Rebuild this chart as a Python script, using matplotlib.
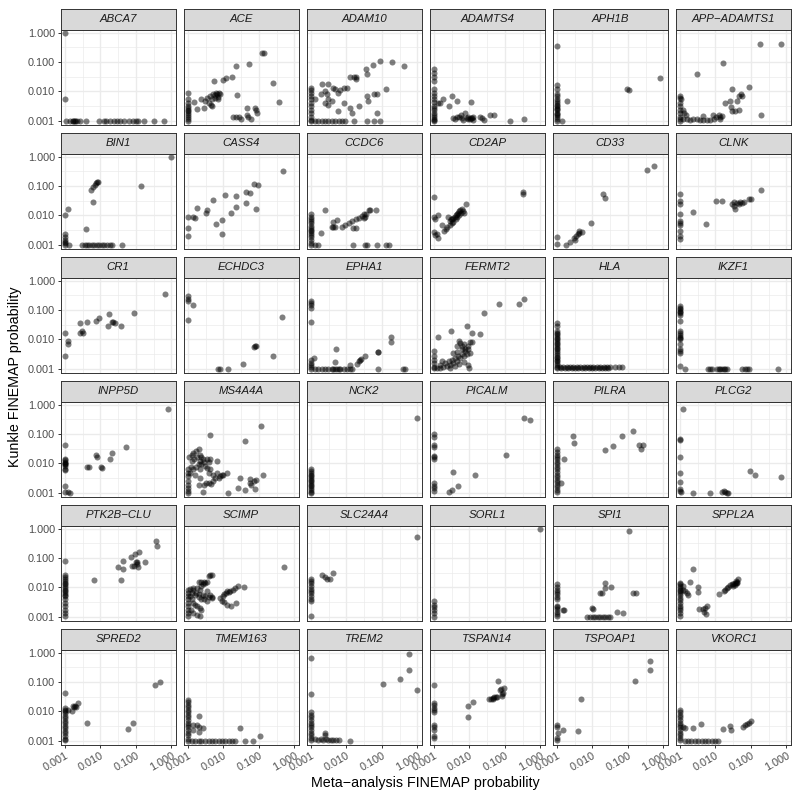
import matplotlib
matplotlib.use("Agg")
import matplotlib.pyplot as plt
from matplotlib.ticker import FixedLocator, NullFormatter

plt.rcParams["font.family"] = ["Liberation Sans", "DejaVu Sans"]

# (meta-analysis prob, Kunkle prob), one list per locus
abca7 = [(0.001, 1.0), (0.001, 0.0056), (0.0011, 0.001), (0.0014, 0.001), (0.0017, 0.001), (0.0017, 0.001),
         (0.0019, 0.001), (0.0019, 0.001), (0.0022, 0.001), (0.0027, 0.001), (0.004, 0.001), (0.0093, 0.001),
         (0.0123, 0.001), (0.0145, 0.001), (0.019, 0.001), (0.0245, 0.001), (0.029, 0.001), (0.035, 0.001),
         (0.046, 0.001), (0.063, 0.001), (0.083, 0.001), (0.098, 0.001), (0.113, 0.001), (0.17, 0.001),
         (0.32, 0.001), (0.62, 0.001)]
ace = [(0.001, 0.0091), (0.001, 0.0054), (0.001, 0.0041), (0.001, 0.0032), (0.001, 0.0024), (0.001, 0.0018),
       (0.001, 0.0014), (0.001, 0.00115), (0.001, 0.001), (0.001, 0.0028), (0.001, 0.0021), (0.001, 0.0016),
       (0.0015, 0.0043), (0.0018, 0.0025), (0.0023, 0.0054), (0.0028, 0.0028), (0.003, 0.0047), (0.0034, 0.006),
       (0.0038, 0.0041), (0.0044, 0.0036), (0.0047, 0.0032), (0.0041, 0.0069), (0.0052, 0.008), (0.0059, 0.006),
       (0.0063, 0.0091), (0.0073, 0.0091), (0.0068, 0.0054), (0.0048, 0.0054), (0.0058, 0.0075), (0.0065, 0.0082),
       (0.007, 0.0065), (0.0078, 0.0085), (0.0055, 0.023), (0.0096, 0.024), (0.012, 0.028), (0.017, 0.032),
       (0.023, 0.076), (0.024, 0.0074), (0.054, 0.087), (0.12, 0.21), (0.14, 0.21), (0.25, 0.019), (0.36, 0.0045),
       (0.019, 0.00134), (0.023, 0.00134), (0.027, 0.0014), (0.031, 0.0012), (0.047, 0.0028), (0.047, 0.0016),
       (0.049, 0.0014), (0.058, 0.0012), (0.076, 0.0028), (0.085, 0.0023), (0.089, 0.0019)]
adam10 = [(0.001, 0.0135), (0.001, 0.011), (0.001, 0.0091), (0.001, 0.0069), (0.001, 0.0054), (0.001, 0.0041),
          (0.001, 0.0032), (0.001, 0.0024), (0.001, 0.0018), (0.001, 0.0014), (0.001, 0.0011), (0.001, 0.001),
          (0.0013, 0.001), (0.0016, 0.001), (0.002, 0.001), (0.0025, 0.001), (0.0031, 0.001), (0.0039, 0.001),
          (0.0048, 0.001), (0.006, 0.001), (0.0074, 0.001), (0.0093, 0.001), (0.016, 0.001), (0.038, 0.001),
          (0.059, 0.001), (0.091, 0.001), (0.0013, 0.0056), (0.0019, 0.008), (0.0021, 0.018), (0.0031, 0.018),
          (0.0025, 0.0103), (0.0028, 0.008), (0.0031, 0.0054), (0.0041, 0.0135), (0.0025, 0.0041), (0.0031, 0.0036),
          (0.0039, 0.0047), (0.0048, 0.0117), (0.0056, 0.0091), (0.0066, 0.011), (0.0083, 0.0135), (0.0103, 0.0135),
          (0.0083, 0.0041), (0.0056, 0.0021), (0.013, 0.032), (0.016, 0.032), (0.019, 0.032), (0.018, 0.027),
          (0.013, 0.0028), (0.0145, 0.0019), (0.022, 0.0033), (0.035, 0.057), (0.038, 0.039), (0.038, 0.0069),
          (0.04, 0.0047), (0.056, 0.08), (0.059, 0.008), (0.073, 0.008), (0.091, 0.11), (0.126, 0.0126),
          (0.195, 0.1), (0.42, 0.076), (0.073, 0.0019)]
adamts4 = [(0.001, 0.057), (0.001, 0.043), (0.001, 0.03), (0.001, 0.023), (0.001, 0.0117), (0.001, 0.0091),
           (0.001, 0.0069), (0.001, 0.0054), (0.001, 0.0045), (0.001, 0.0032), (0.001, 0.0027), (0.001, 0.0024),
           (0.001, 0.0019), (0.001, 0.0016), (0.001, 0.0014), (0.001, 0.0012), (0.001, 0.0011), (0.001, 0.001),
           (0.0013, 0.0039), (0.0015, 0.0041), (0.0018, 0.0054), (0.0026, 0.0032), (0.0033, 0.0069),
           (0.0044, 0.0047), (0.011, 0.0043), (0.0035, 0.00123), (0.0044, 0.00134), (0.0052, 0.0014),
           (0.0057, 0.0016), (0.0065, 0.0011), (0.0073, 0.0019), (0.0085, 0.00123), (0.0093, 0.0014),
           (0.0105, 0.00115), (0.0117, 0.00123), (0.013, 0.00134), (0.0195, 0.0014), (0.022, 0.00123),
           (0.026, 0.0011), (0.039, 0.0016), (0.05, 0.0016), (0.138, 0.00103), (0.355, 0.00115), (0.004, 0.0012),
           (0.0062, 0.0013), (0.009, 0.0012), (0.011, 0.0013), (0.0125, 0.0011)]
aph1b = [(0.001, 0.355), (0.001, 0.016), (0.001, 0.0117), (0.001, 0.0085), (0.001, 0.0069), (0.001, 0.0056),
         (0.001, 0.0047), (0.001, 0.0039), (0.001, 0.0033), (0.001, 0.0028), (0.001, 0.0023), (0.001, 0.0019),
         (0.001, 0.0016), (0.001, 0.0014), (0.001, 0.0012), (0.001, 0.001), (0.001, 0.0036), (0.001, 0.0025),
         (0.001, 0.0017), (0.0019, 0.0049), (0.00135, 0.001), (0.095, 0.0126), (0.105, 0.011), (0.79, 0.028)]
app_adamts1 = [(0.001, 0.0069), (0.001, 0.006), (0.001, 0.0041), (0.001, 0.0032), (0.001, 0.0024), (0.001, 0.0019),
               (0.001, 0.0014), (0.001, 0.00115), (0.001, 0.001), (0.0011, 0.0055), (0.00124, 0.0012),
               (0.00155, 0.00115), (0.0019, 0.0011), (0.0024, 0.0012), (0.003, 0.00115), (0.0037, 0.0011),
               (0.0046, 0.0011), (0.0057, 0.0011), (0.0071, 0.0011), (0.0089, 0.00115), (0.0013, 0.0019),
               (0.00124, 0.0024), (0.0015, 0.0016), (0.0044, 0.0015), (0.0083, 0.0016), (0.0105, 0.00134),
               (0.0123, 0.0016), (0.0138, 0.0014), (0.015, 0.0015), (0.0138, 0.00115), (0.003, 0.039),
               (0.016, 0.093), (0.019, 0.0041), (0.026, 0.0047), (0.029, 0.0126), (0.028, 0.003), (0.029, 0.0021),
               (0.036, 0.0021), (0.045, 0.0024), (0.04, 0.0047), (0.045, 0.0069), (0.052, 0.008), (0.056, 0.0069),
               (0.087, 0.014), (0.186, 0.0016), (0.18, 0.4), (0.72, 0.4)]
bin1 = [(1.0, 0.95), (0.14, 0.1), (0.001, 0.01), (0.0012, 0.016), (0.001, 0.0024), (0.001, 0.0019),
        (0.001, 0.0015), (0.001, 0.0013), (0.001, 0.00115), (0.001, 0.001), (0.0013, 0.001), (0.0039, 0.0035),
        (0.0062, 0.029), (0.0054, 0.076), (0.0062, 0.091), (0.0068, 0.11), (0.0074, 0.126), (0.0079, 0.135),
        (0.0085, 0.135), (0.003, 0.001), (0.0037, 0.001), (0.0043, 0.001), (0.0049, 0.001), (0.0057, 0.001),
        (0.0066, 0.001), (0.0079, 0.001), (0.0093, 0.001), (0.011, 0.001), (0.013, 0.001), (0.015, 0.001),
        (0.018, 0.001), (0.021, 0.001), (0.04, 0.001)]
cass4 = [(0.001, 0.0091), (0.001, 0.0038), (0.001, 0.002), (0.0014, 0.0091), (0.0016, 0.0085), (0.0018, 0.018),
         (0.0032, 0.0126), (0.0035, 0.015), (0.005, 0.034), (0.0062, 0.0052), (0.0089, 0.0024), (0.0093, 0.0069),
         (0.011, 0.049), (0.016, 0.0117), (0.023, 0.045), (0.023, 0.02), (0.042, 0.027), (0.042, 0.062),
         (0.055, 0.056), (0.071, 0.12), (0.093, 0.105), (0.085, 0.016), (0.49, 0.32)]
ccdc6 = [(0.001, 0.011), (0.001, 0.0091), (0.001, 0.0074), (0.001, 0.0056), (0.001, 0.0043), (0.001, 0.0033),
         (0.001, 0.0025), (0.001, 0.0019), (0.001, 0.0015), (0.001, 0.0012), (0.001, 0.001), (0.001, 0.0065),
         (0.001, 0.0038), (0.001, 0.0029), (0.001, 0.0022), (0.0013, 0.001), (0.0016, 0.001), (0.0019, 0.0025),
         (0.0025, 0.0155), (0.0039, 0.0041), (0.0043, 0.0041), (0.0048, 0.0041), (0.0041, 0.0059),
         (0.0054, 0.0069), (0.0074, 0.0041), (0.0093, 0.0048), (0.0115, 0.0056), (0.014, 0.0065), (0.018, 0.0074),
         (0.022, 0.0083), (0.027, 0.0095), (0.031, 0.011), (0.036, 0.0115), (0.043, 0.015), (0.047, 0.015),
         (0.031, 0.0083), (0.034, 0.0091), (0.069, 0.0155), (0.015, 0.0037), (0.019, 0.0037), (0.015, 0.001),
         (0.034, 0.001), (0.038, 0.001), (0.072, 0.001), (0.126, 0.001), (0.155, 0.001)]
cd2ap = [(0.001, 0.041), (0.001, 0.0091), (0.0011, 0.0078), (0.00126, 0.01), (0.001, 0.0027), (0.0011, 0.0022),
         (0.0012, 0.0024), (0.0013, 0.0017), (0.0017, 0.0049), (0.0019, 0.0029), (0.0022, 0.0035),
         (0.0023, 0.0041), (0.0025, 0.0091), (0.0028, 0.0065), (0.003, 0.0074), (0.0032, 0.0078),
         (0.0035, 0.0083), (0.0038, 0.0091), (0.0041, 0.01), (0.0044, 0.011), (0.0047, 0.0126), (0.005, 0.014),
         (0.0055, 0.015), (0.0062, 0.016), (0.0066, 0.014), (0.0071, 0.0126), (0.0052, 0.01), (0.0043, 0.0074),
         (0.0035, 0.0059), (0.0032, 0.0056), (0.0028, 0.0049), (0.0046, 0.0091), (0.0058, 0.0126),
         (0.0081, 0.024), (0.33, 0.065), (0.33, 0.054)]
cd33 = [(0.001, 0.0018), (0.001, 0.0011), (0.0018, 0.001), (0.0023, 0.0013), (0.0031, 0.0017), (0.0035, 0.002),
        (0.0038, 0.0024), (0.0043, 0.0025), (0.005, 0.0027), (0.0041, 0.0029), (0.0033, 0.0015), (0.0093, 0.0056),
        (0.02, 0.054), (0.023, 0.038), (0.35, 0.35), (0.54, 0.48)]
clnk = [(0.001, 0.054), (0.001, 0.032), (0.001, 0.024), (0.001, 0.011), (0.001, 0.0065), (0.001, 0.0056),
        (0.001, 0.0049), (0.001, 0.0029), (0.001, 0.002), (0.001, 0.0016), (0.0023, 0.0135), (0.0055, 0.0052),
        (0.0105, 0.031), (0.015, 0.032), (0.029, 0.024), (0.033, 0.021), (0.036, 0.017), (0.041, 0.026),
        (0.045, 0.024), (0.05, 0.028), (0.056, 0.026), (0.063, 0.029), (0.087, 0.035), (0.098, 0.035),
        (0.033, 0.029), (0.19, 0.074)]
cr1 = [(0.001, 0.017), (0.001, 0.0028), (0.0012, 0.009), (0.0012, 0.0068), (0.0027, 0.035), (0.0027, 0.017),
       (0.003, 0.0195), (0.0033, 0.016), (0.0043, 0.038), (0.0076, 0.044), (0.0091, 0.052), (0.016, 0.028),
       (0.017, 0.074), (0.021, 0.04), (0.023, 0.04), (0.026, 0.035), (0.038, 0.028), (0.087, 0.081), (0.66, 0.35)]
echdc3 = [(0.001, 0.3), (0.001, 0.23), (0.001, 0.2), (0.00135, 0.15), (0.001, 0.046), (0.0068, 0.001),
          (0.0078, 0.001), (0.0138, 0.001), (0.035, 0.00145), (0.071, 0.0054), (0.079, 0.0058), (0.085, 0.0058),
          (0.245, 0.0028), (0.45, 0.056)]
epha1 = [(0.001, 0.21), (0.001, 0.18), (0.001, 0.145), (0.001, 0.12), (0.001, 0.04), (0.001, 0.002),
         (0.001, 0.0016), (0.001, 0.0014), (0.001, 0.0012), (0.001, 0.001), (0.0012, 0.0023), (0.0013, 0.001),
         (0.0016, 0.001), (0.002, 0.001), (0.0025, 0.001), (0.0031, 0.001), (0.0039, 0.001), (0.0043, 0.001),
         (0.0048, 0.001), (0.0053, 0.001), (0.006, 0.001), (0.0066, 0.001), (0.0083, 0.001), (0.0103, 0.001),
         (0.0123, 0.001), (0.014, 0.001), (0.077, 0.001), (0.4, 0.001), (0.46, 0.001), (0.0051, 0.0046),
         (0.0048, 0.0017), (0.0123, 0.00135), (0.02, 0.0015), (0.022, 0.0018), (0.024, 0.002), (0.026, 0.0021),
         (0.034, 0.0028), (0.077, 0.0038), (0.079, 0.0038), (0.18, 0.0085), (0.18, 0.0117)]
fermt2 = [(0.001, 0.004), (0.001, 0.0027), (0.001, 0.002), (0.001, 0.0016), (0.001, 0.0012), (0.001, 0.00105),
          (0.0012, 0.00105), (0.0015, 0.00105), (0.0018, 0.00115), (0.0023, 0.00126), (0.0028, 0.0014),
          (0.0035, 0.0016), (0.0044, 0.0019), (0.0055, 0.0023), (0.0068, 0.0028), (0.0085, 0.0033),
          (0.002, 0.0016), (0.0026, 0.0018), (0.0032, 0.002), (0.004, 0.0023), (0.0049, 0.0028), (0.0062, 0.0033),
          (0.0076, 0.004), (0.0094, 0.0046), (0.0105, 0.0035), (0.0028, 0.00105), (0.004, 0.00126),
          (0.0052, 0.0015), (0.0068, 0.0017), (0.0094, 0.0014), (0.0035, 0.0035), (0.0046, 0.0037),
          (0.0062, 0.0046), (0.0076, 0.0046), (0.0089, 0.0059), (0.0105, 0.0081), (0.0117, 0.0081),
          (0.0055, 0.0078), (0.0062, 0.0059), (0.01, 0.00105), (0.0015, 0.0014), (0.0017, 0.0018), (0.0013, 0.012),
          (0.003, 0.0195), (0.0085, 0.028), (0.0117, 0.017), (0.02, 0.015), (0.025, 0.079), (0.069, 0.16),
          (0.245, 0.155), (0.345, 0.245), (0.0052, 0.0089), (0.0068, 0.0068), (0.0046, 0.0059)]
hla = [(0.001, 0.036), (0.001, 0.028), (0.001, 0.0195), (0.001, 0.015), (0.001, 0.0115), (0.001, 0.0089),
       (0.001, 0.0068), (0.001, 0.0052), (0.001, 0.004), (0.001, 0.003), (0.001, 0.0023), (0.001, 0.0018),
       (0.001, 0.0014), (0.001, 0.00105), (0.001, 0.017), (0.001, 0.013), (0.001, 0.01), (0.001, 0.0078),
       (0.001, 0.006), (0.001, 0.0046), (0.001, 0.0035), (0.001, 0.0026), (0.001, 0.002), (0.001, 0.0016),
       (0.001, 0.0012), (0.00122, 0.00115), (0.0015, 0.00115), (0.0019, 0.00115), (0.0023, 0.00115),
       (0.0029, 0.00115), (0.0036, 0.00115), (0.0045, 0.00115), (0.0056, 0.00115), (0.0069, 0.00115),
       (0.0087, 0.00115), (0.0107, 0.00115), (0.0134, 0.00115), (0.0166, 0.00115), (0.021, 0.00115),
       (0.026, 0.00115), (0.032, 0.00115), (0.044, 0.00115), (0.055, 0.00115), (0.069, 0.00115),
       (0.0013, 0.00105), (0.0017, 0.00105), (0.0021, 0.00105), (0.0026, 0.00105), (0.0032, 0.00105),
       (0.004, 0.00105), (0.005, 0.00105), (0.0062, 0.00105), (0.0078, 0.00105), (0.0097, 0.00105),
       (0.012, 0.00105), (0.015, 0.00105), (0.019, 0.00105), (0.023, 0.00105), (0.028, 0.00105)]
ikzf1 = [(0.001, 0.135), (0.001, 0.12), (0.001, 0.11), (0.001, 0.095), (0.001, 0.085), (0.001, 0.079),
         (0.001, 0.067), (0.001, 0.044), (0.001, 0.0195), (0.001, 0.016), (0.001, 0.0138), (0.001, 0.0125),
         (0.001, 0.0115), (0.001, 0.01), (0.001, 0.0068), (0.001, 0.0046), (0.001, 0.004), (0.001, 0.0035),
         (0.001, 0.00126), (0.0014, 0.001), (0.0063, 0.001), (0.0071, 0.001), (0.0079, 0.001), (0.011, 0.001),
         (0.0123, 0.001), (0.0138, 0.001), (0.015, 0.001), (0.017, 0.001), (0.019, 0.001), (0.021, 0.001),
         (0.056, 0.001), (0.066, 0.001), (0.078, 0.001), (0.087, 0.001), (0.58, 0.001)]
inpp5d = [(0.81, 0.71), (0.001, 0.043), (0.001, 0.0145), (0.001, 0.013), (0.001, 0.011), (0.001, 0.0105),
          (0.001, 0.0098), (0.001, 0.0093), (0.001, 0.0081), (0.001, 0.0066), (0.001, 0.0059), (0.001, 0.0017),
          (0.001, 0.0011), (0.0012, 0.0011), (0.0014, 0.001), (0.0043, 0.0078), (0.0049, 0.0078),
          (0.0076, 0.019), (0.0079, 0.017), (0.0105, 0.0078), (0.011, 0.0068), (0.018, 0.0145), (0.021, 0.022),
          (0.052, 0.037)]
ms4a4a = [(0.0042, 0.095), (0.117, 0.186), (0.04, 0.06), (0.129, 0.0042), (0.001, 0.0063), (0.001, 0.0048),
          (0.001, 0.0037), (0.001, 0.0025), (0.001, 0.0019), (0.001, 0.00145), (0.001, 0.0012), (0.001, 0.001),
          (0.0011, 0.016), (0.00127, 0.019), (0.0014, 0.023), (0.0017, 0.027), (0.002, 0.032), (0.00127, 0.012),
          (0.0015, 0.0145), (0.0018, 0.017), (0.0022, 0.02), (0.0024, 0.017), (0.0027, 0.0145), (0.0022, 0.012),
          (0.002, 0.0093), (0.0017, 0.0078), (0.0022, 0.0063), (0.0024, 0.0093), (0.0028, 0.011),
          (0.0034, 0.0138), (0.0038, 0.011), (0.0041, 0.0145), (0.003, 0.0081), (0.0034, 0.0071),
          (0.0038, 0.0048), (0.0012, 0.0078), (0.0014, 0.0063), (0.00114, 0.0048), (0.0016, 0.0042),
          (0.0022, 0.0032), (0.0021, 0.0019), (0.0027, 0.0011), (0.0065, 0.012), (0.0042, 0.0063),
          (0.0052, 0.0039), (0.0065, 0.0046), (0.0073, 0.0032), (0.0081, 0.0037), (0.0091, 0.0039),
          (0.01, 0.0042), (0.0059, 0.0032), (0.0052, 0.0025), (0.0044, 0.002), (0.0038, 0.0021), (0.0032, 0.0021),
          (0.0028, 0.0019), (0.0126, 0.0048), (0.0135, 0.001), (0.025, 0.0015), (0.03, 0.0032), (0.04, 0.00127),
          (0.055, 0.003), (0.057, 0.0021), (0.06, 0.0019), (0.074, 0.0025), (0.085, 0.0027), (0.076, 0.00134)]
nck2 = [(0.001, 0.0066), (0.001, 0.0055), (0.001, 0.0048), (0.001, 0.0042), (0.001, 0.0037), (0.001, 0.0032),
        (0.001, 0.0028), (0.001, 0.0025), (0.001, 0.0021), (0.001, 0.0019), (0.001, 0.0017), (0.001, 0.00145),
        (0.001, 0.00127), (0.001, 0.0011), (0.001, 0.001), (0.98, 0.34)]
picalm = [(0.35, 0.355), (0.51, 0.3), (0.001, 0.1), (0.001, 0.078), (0.001, 0.043), (0.001, 0.035),
          (0.001, 0.018), (0.001, 0.016), (0.001, 0.0138), (0.001, 0.0021), (0.001, 0.0017), (0.001, 0.00145),
          (0.001, 0.0012), (0.105, 0.02), (0.0035, 0.0052), (0.0145, 0.0039), (0.0049, 0.0017),
          (0.0033, 0.00127), (0.0027, 0.00105)]
pilra = [(0.001, 0.031), (0.001, 0.025), (0.001, 0.02), (0.001, 0.017), (0.001, 0.0138), (0.001, 0.011),
         (0.001, 0.0093), (0.001, 0.0078), (0.001, 0.0063), (0.001, 0.005), (0.001, 0.0042), (0.001, 0.0035),
         (0.001, 0.0028), (0.001, 0.0023), (0.001, 0.0019), (0.001, 0.0016), (0.001, 0.00127), (0.001, 0.00108),
         (0.00127, 0.0021), (0.0016, 0.0138), (0.0028, 0.085), (0.0031, 0.05), (0.023, 0.029), (0.038, 0.038),
         (0.069, 0.085), (0.135, 0.132), (0.21, 0.043), (0.27, 0.043), (0.235, 0.031)]
plcg2 = [(0.00123, 0.69), (0.001, 0.067), (0.001, 0.063), (0.001, 0.0166), (0.001, 0.0046), (0.001, 0.0023),
         (0.001, 0.00134), (0.001, 0.0012), (0.0011, 0.00105), (0.0024, 0.001), (0.0071, 0.001), (0.015, 0.0011),
         (0.017, 0.0012), (0.019, 0.00105), (0.021, 0.001), (0.023, 0.001), (0.093, 0.0055), (0.126, 0.0041),
         (0.69, 0.0034)]
ptk2b_clu = [(0.001, 0.081), (0.001, 0.026), (0.001, 0.022), (0.001, 0.019), (0.001, 0.0166), (0.001, 0.0145),
             (0.001, 0.0128), (0.001, 0.011), (0.001, 0.0098), (0.001, 0.0085), (0.001, 0.0075), (0.001, 0.0066),
             (0.001, 0.0057), (0.001, 0.005), (0.001, 0.0039), (0.001, 0.003), (0.001, 0.0023), (0.001, 0.0017),
             (0.001, 0.00135), (0.001, 0.0011), (0.0066, 0.018), (0.038, 0.018), (0.031, 0.048), (0.044, 0.043),
             (0.044, 0.081), (0.074, 0.107), (0.093, 0.14), (0.12, 0.16), (0.078, 0.052), (0.091, 0.055),
             (0.105, 0.063), (0.108, 0.072), (0.112, 0.051), (0.098, 0.076), (0.18, 0.076), (0.37, 0.37),
             (0.38, 0.26)]
scimp = [(0.51, 0.051), (0.001, 0.0085), (0.001, 0.0066), (0.001, 0.005), (0.001, 0.0039), (0.001, 0.003),
         (0.001, 0.0023), (0.001, 0.0017), (0.001, 0.00135), (0.001, 0.0011), (0.00114, 0.0091), (0.0014, 0.0098),
         (0.0018, 0.0098), (0.00114, 0.005), (0.00127, 0.0039), (0.0014, 0.003), (0.0016, 0.0026),
         (0.0018, 0.0023), (0.0022, 0.002), (0.0024, 0.0017), (0.0012, 0.0017), (0.0014, 0.0014),
         (0.0018, 0.00117), (0.0022, 0.0011), (0.00127, 0.0066), (0.0016, 0.0054), (0.002, 0.0048),
         (0.0024, 0.0041), (0.0028, 0.0039), (0.0034, 0.0034), (0.00135, 0.0085), (0.0017, 0.0066),
         (0.0021, 0.0058), (0.0026, 0.0054), (0.003, 0.005), (0.0038, 0.0048), (0.0047, 0.0045),
         (0.0022, 0.0085), (0.0024, 0.011), (0.0027, 0.0128), (0.003, 0.0138), (0.0021, 0.0155),
         (0.0024, 0.0155), (0.0028, 0.0155), (0.0034, 0.0155), (0.0038, 0.025), (0.0042, 0.026), (0.0047, 0.026),
         (0.0035, 0.0076), (0.0042, 0.0054), (0.0047, 0.0048), (0.0081, 0.0045), (0.0095, 0.005),
         (0.0105, 0.0058), (0.012, 0.0063), (0.0139, 0.0069), (0.0155, 0.0076), (0.0185, 0.0085),
         (0.021, 0.0098), (0.025, 0.011), (0.037, 0.0105), (0.0091, 0.0034), (0.0105, 0.0032), (0.0126, 0.0026),
         (0.016, 0.0024), (0.023, 0.003), (0.0126, 0.0076)]
slc24a4 = [(0.95, 0.52), (0.001, 0.02), (0.001, 0.0166), (0.001, 0.0138), (0.001, 0.011), (0.001, 0.0091),
           (0.001, 0.0076), (0.001, 0.0063), (0.001, 0.005), (0.001, 0.0041), (0.001, 0.0034), (0.001, 0.0011),
           (0.0021, 0.026), (0.0025, 0.022), (0.0029, 0.02), (0.0035, 0.019), (0.0041, 0.031)]
sorl1 = [(1.0, 0.97), (0.001, 0.0034), (0.001, 0.0026), (0.001, 0.0021), (0.001, 0.0017), (0.001, 0.00135),
         (0.001, 0.001)]
spi1 = [(0.105, 0.85), (0.001, 0.0128), (0.001, 0.0107), (0.001, 0.0085), (0.001, 0.0069), (0.001, 0.0058),
        (0.001, 0.0048), (0.001, 0.0039), (0.001, 0.0024), (0.001, 0.0021), (0.001, 0.0019), (0.001, 0.0015),
        (0.001, 0.00127), (0.001, 0.0011), (0.00145, 0.0017), (0.0016, 0.0017), (0.0096, 0.002),
        (0.0107, 0.0019), (0.023, 0.0145), (0.023, 0.0093), (0.0166, 0.0063), (0.018, 0.0063), (0.034, 0.0105),
        (0.14, 0.0066), (0.17, 0.0066), (0.049, 0.0015), (0.072, 0.00135), (0.0069, 0.001), (0.0087, 0.001),
        (0.0103, 0.001), (0.012, 0.001), (0.014, 0.001), (0.0166, 0.001), (0.02, 0.001), (0.023, 0.001),
        (0.027, 0.001), (0.032, 0.001)]
sppl2a = [(0.001, 0.0145), (0.001, 0.0128), (0.001, 0.011), (0.001, 0.0098), (0.001, 0.0085), (0.001, 0.0076),
          (0.001, 0.0066), (0.001, 0.0054), (0.001, 0.0045), (0.001, 0.0037), (0.001, 0.003), (0.001, 0.0024),
          (0.001, 0.002), (0.001, 0.0017), (0.001, 0.00135), (0.001, 0.0011), (0.0012, 0.011), (0.00124, 0.0085),
          (0.0014, 0.0076), (0.00155, 0.0063), (0.0017, 0.0054), (0.0024, 0.043), (0.0019, 0.0155),
          (0.0033, 0.0107), (0.0033, 0.0069), (0.0035, 0.0019), (0.0044, 0.0019), (0.0051, 0.002),
          (0.0057, 0.0023), (0.0048, 0.0015), (0.0055, 0.00127), (0.0129, 0.0058), (0.017, 0.0076),
          (0.019, 0.0085), (0.021, 0.0098), (0.023, 0.0107), (0.026, 0.0117), (0.029, 0.0128), (0.032, 0.0135),
          (0.036, 0.0138), (0.041, 0.0145), (0.036, 0.0117), (0.031, 0.011), (0.039, 0.0166), (0.043, 0.019),
          (0.04, 0.015), (0.038, 0.014)]
spred2 = [(0.001, 0.041), (0.001, 0.013), (0.001, 0.0115), (0.001, 0.01), (0.001, 0.0089), (0.001, 0.0071),
          (0.001, 0.0059), (0.001, 0.0049), (0.001, 0.004), (0.001, 0.0032), (0.001, 0.0027), (0.001, 0.0022),
          (0.001, 0.0018), (0.001, 0.00145), (0.001, 0.0012), (0.001, 0.00105), (0.00124, 0.0115),
          (0.00155, 0.01), (0.0017, 0.015), (0.0018, 0.014), (0.0019, 0.015), (0.0021, 0.014), (0.0024, 0.0195),
          (0.0043, 0.0042), (0.059, 0.0025), (0.083, 0.004), (0.34, 0.078), (0.48, 0.1)]
tmem163 = [(0.001, 0.024), (0.001, 0.0204), (0.001, 0.017), (0.001, 0.014), (0.001, 0.0115), (0.001, 0.0093),
           (0.001, 0.0078), (0.001, 0.0065), (0.001, 0.0052), (0.001, 0.0042), (0.001, 0.0035), (0.001, 0.0029),
           (0.001, 0.0023), (0.001, 0.0019), (0.001, 0.0016), (0.001, 0.0012), (0.001, 0.001), (0.00135, 0.0035),
           (0.0014, 0.0023), (0.0018, 0.0035), (0.002, 0.0029), (0.0021, 0.0068), (0.002, 0.002),
           (0.0026, 0.0027), (0.03, 0.0027), (0.00127, 0.001), (0.0016, 0.001), (0.002, 0.001), (0.0024, 0.001),
           (0.003, 0.001), (0.0038, 0.001), (0.0047, 0.001), (0.0059, 0.001), (0.0073, 0.001), (0.0091, 0.001),
           (0.0112, 0.001), (0.0139, 0.001), (0.0174, 0.001), (0.0214, 0.001), (0.04, 0.001), (0.069, 0.001),
           (0.11, 0.00145)]
trem2 = [(0.001, 0.65), (0.001, 0.038), (0.001, 0.0093), (0.001, 0.0078), (0.001, 0.0065), (0.001, 0.0052),
         (0.001, 0.0042), (0.001, 0.0035), (0.001, 0.0029), (0.001, 0.0023), (0.001, 0.0019), (0.001, 0.0016),
         (0.001, 0.0013), (0.001, 0.0011), (0.0013, 0.0012), (0.0016, 0.0011), (0.0019, 0.0012), (0.0022, 0.0011),
         (0.0027, 0.0012), (0.0031, 0.0011), (0.0036, 0.0011), (0.0043, 0.0011), (0.0051, 0.0011),
         (0.006, 0.0011), (0.0123, 0.001), (0.0025, 0.0019), (0.0025, 0.0016), (0.107, 0.085), (0.32, 0.13),
         (0.58, 0.26), (0.58, 0.87), (1.0, 0.054)]
tspan14 = [(0.001, 0.079), (0.001, 0.0195), (0.001, 0.016), (0.001, 0.013), (0.001, 0.011), (0.001, 0.0093),
           (0.001, 0.0035), (0.001, 0.0029), (0.001, 0.0023), (0.001, 0.00145), (0.001, 0.00127), (0.0091, 0.015),
           (0.0126, 0.021), (0.0093, 0.0065), (0.036, 0.026), (0.041, 0.027), (0.046, 0.029), (0.05, 0.031),
           (0.055, 0.032), (0.06, 0.032), (0.047, 0.027), (0.063, 0.11), (0.071, 0.054), (0.079, 0.056),
           (0.093, 0.062), (0.083, 0.038), (0.083, 0.033), (0.089, 0.044)]
tspoap1 = [(0.001, 0.0035), (0.001, 0.0029), (0.00105, 0.0019), (0.001, 0.00127), (0.001, 0.0011),
           (0.0015, 0.0023), (0.0039, 0.0021), (0.0048, 0.027), (0.155, 0.105), (0.41, 0.54), (0.41, 0.26)]
vkorc1 = [(0.001, 0.0115), (0.001, 0.0093), (0.001, 0.0078), (0.001, 0.0065), (0.001, 0.0052), (0.001, 0.0042),
          (0.001, 0.0035), (0.001, 0.0029), (0.001, 0.0023), (0.001, 0.0019), (0.001, 0.0016), (0.001, 0.0013),
          (0.001, 0.0011), (0.00124, 0.003), (0.0014, 0.0027), (0.0014, 0.001), (0.0017, 0.001), (0.0021, 0.001),
          (0.0027, 0.001), (0.0033, 0.001), (0.0041, 0.001), (0.0051, 0.001), (0.0063, 0.001), (0.0079, 0.001),
          (0.0098, 0.001), (0.0115, 0.001), (0.0024, 0.0027), (0.004, 0.0037), (0.016, 0.0025), (0.026, 0.0032),
          (0.028, 0.0023), (0.06, 0.003), (0.069, 0.0035), (0.077, 0.0038), (0.087, 0.0042), (0.098, 0.0049)]

loci = ["ABCA7", "ACE", "ADAM10", "ADAMTS4", "APH1B", "APP\u2212ADAMTS1",
        "BIN1", "CASS4", "CCDC6", "CD2AP", "CD33", "CLNK",
        "CR1", "ECHDC3", "EPHA1", "FERMT2", "HLA", "IKZF1",
        "INPP5D", "MS4A4A", "NCK2", "PICALM", "PILRA", "PLCG2",
        "PTK2B\u2212CLU", "SCIMP", "SLC24A4", "SORL1", "SPI1", "SPPL2A",
        "SPRED2", "TMEM163", "TREM2", "TSPAN14", "TSPOAP1", "VKORC1"]
points = [abca7, ace, adam10, adamts4, aph1b, app_adamts1,
          bin1, cass4, ccdc6, cd2ap, cd33, clnk,
          cr1, echdc3, epha1, fermt2, hla, ikzf1,
          inpp5d, ms4a4a, nck2, picalm, pilra, plcg2,
          ptk2b_clu, scimp, slc24a4, sorl1, spi1, sppl2a,
          spred2, tmem163, trem2, tspan14, tspoap1, vkorc1]

major = [0.001, 0.01, 0.1, 1.0]
major_labels = ["0.001", "0.010", "0.100", "1.000"]
minor = [10 ** -2.5, 10 ** -1.5, 10 ** -0.5]

W, H = 800, 800
fig = plt.figure(figsize=(8, 8), dpi=100)

for i, (name, pts) in enumerate(zip(loci, points)):
    r, c = divmod(i, 6)
    left = 60.7 + 123 * c
    top = 30 + 124 * r
    ax = fig.add_axes([left / W, 1 - (top + 95) / H, 115 / W, 95 / H])
    xs = [p[0] for p in pts]
    ys = [p[1] for p in pts]
    ax.scatter(xs, ys, s=19, color="black", alpha=0.5, linewidths=0, zorder=3)
    ax.set_xscale("log")
    ax.set_yscale("log")
    ax.set_xlim(10 ** -3.12, 10 ** 0.12)
    ax.set_ylim(10 ** -3.14, 10 ** 0.09)
    for axis in (ax.xaxis, ax.yaxis):
        axis.set_major_locator(FixedLocator(major))
        axis.set_minor_locator(FixedLocator(minor))
        axis.set_minor_formatter(NullFormatter())
    ax.grid(which="major", color="#EBEBEB", lw=1.0)
    ax.grid(which="minor", color="#EBEBEB", lw=0.5)
    ax.set_axisbelow(True)
    for sp in ax.spines.values():
        sp.set_color("#333333")
        sp.set_linewidth(0.7)
    ax.tick_params(which="minor", length=0)
    ax.tick_params(which="major", length=2.5, width=0.7, color="#333333",
                   labelsize=7.8, labelcolor="#4D4D4D", pad=1.5)
    if c == 0:
        ax.set_yticklabels(major_labels)
    else:
        ax.tick_params(axis="y", which="major", left=False, labelleft=False)
    if r == 5:
        ax.set_xticklabels(major_labels, rotation=30, ha="right", va="top",
                           rotation_mode="anchor")
    else:
        ax.tick_params(axis="x", which="major", bottom=False, labelbottom=False)

    sax = fig.add_axes([left / W, 1 - top / H, 115 / W, 21 / H])
    sax.set_facecolor("#D9D9D9")
    sax.set_xticks([])
    sax.set_yticks([])
    for sp in sax.spines.values():
        sp.set_color("#333333")
        sp.set_linewidth(0.7)
    sax.text(0.5, 0.5, name, ha="center", va="center", fontsize=8.2,
             style="italic", color="#1A1A1A", transform=sax.transAxes)

fig.text(425.7 / W, 1 - 783 / H, "Meta\u2212analysis FINEMAP probability",
         ha="center", va="center", fontsize=10.3)
fig.text(15 / W, 1 - 377 / H, "Kunkle FINEMAP probability",
         ha="center", va="center", rotation=90, fontsize=10.3)

fig.savefig("out.png", dpi=100)
